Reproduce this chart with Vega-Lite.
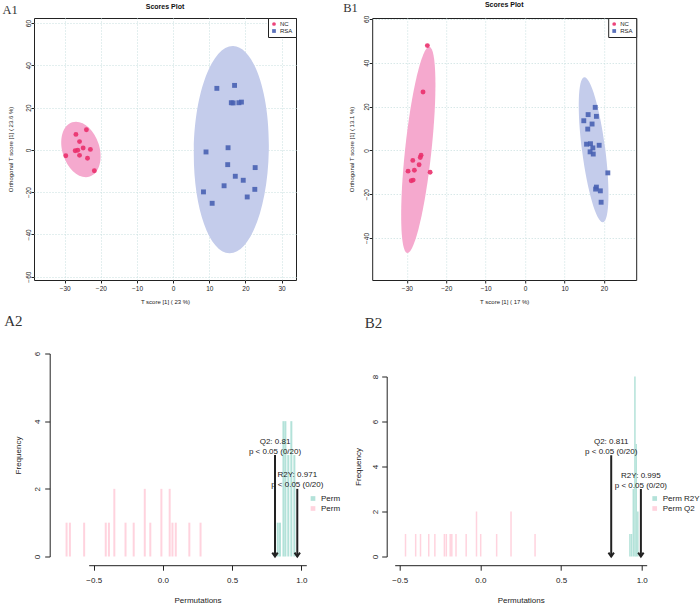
{
  "$schema": "https://vega.github.io/schema/vega-lite/v6.json",
  "padding": {"left": 2, "top": 0, "right": 0, "bottom": 0},
  "spacing": 8.5,
  "resolve": {"scale": {"color": "independent", "shape": "independent"}, "legend": {"color": "independent", "shape": "independent"}},
  "datasets": {
    "a1_points": [
      {"group": "NC", "x": -26.9, "y": 7.3},
      {"group": "NC", "x": -24.0, "y": 9.5},
      {"group": "NC", "x": -25.9, "y": 3.9},
      {"group": "NC", "x": -29.7, "y": -2.8},
      {"group": "NC", "x": -27.1, "y": -0.4},
      {"group": "NC", "x": -26.4, "y": -0.2},
      {"group": "NC", "x": -24.9, "y": 0.9},
      {"group": "NC", "x": -22.9, "y": 0.2},
      {"group": "NC", "x": -25.9, "y": -2.6},
      {"group": "NC", "x": -23.7, "y": -4.0},
      {"group": "NC", "x": -21.8, "y": -9.9},
      {"group": "RSA", "x": 12.1, "y": 29.1},
      {"group": "RSA", "x": 17.0, "y": 30.5},
      {"group": "RSA", "x": 16.1, "y": 22.3},
      {"group": "RSA", "x": 16.6, "y": 22.2},
      {"group": "RSA", "x": 18.2, "y": 22.3},
      {"group": "RSA", "x": 18.9, "y": 22.6},
      {"group": "RSA", "x": 9.1, "y": -1.0},
      {"group": "RSA", "x": 15.2, "y": 1.0},
      {"group": "RSA", "x": 15.1, "y": -7.0},
      {"group": "RSA", "x": 22.7, "y": -8.4},
      {"group": "RSA", "x": 17.2, "y": -12.5},
      {"group": "RSA", "x": 19.4, "y": -14.4},
      {"group": "RSA", "x": 14.1, "y": -17.0},
      {"group": "RSA", "x": 22.6, "y": -18.7},
      {"group": "RSA", "x": 8.4, "y": -19.9},
      {"group": "RSA", "x": 20.5, "y": -22.3},
      {"group": "RSA", "x": 10.8, "y": -25.3}
    ],
    "b1_points": [
      {"group": "NC", "x": -24.8, "y": 47.8},
      {"group": "NC", "x": -25.9, "y": 26.6},
      {"group": "NC", "x": -26.4, "y": -2.2},
      {"group": "NC", "x": -26.6, "y": -3.3},
      {"group": "NC", "x": -28.5, "y": -4.6},
      {"group": "NC", "x": -26.9, "y": -6.6},
      {"group": "NC", "x": -28.1, "y": -9.1},
      {"group": "NC", "x": -29.7, "y": -9.5},
      {"group": "NC", "x": -24.1, "y": -10.0},
      {"group": "NC", "x": -28.4, "y": -13.6},
      {"group": "NC", "x": -28.9, "y": -13.9},
      {"group": "RSA", "x": 17.8, "y": 19.6},
      {"group": "RSA", "x": 16.0, "y": 16.3},
      {"group": "RSA", "x": 18.1, "y": 15.5},
      {"group": "RSA", "x": 14.9, "y": 13.5},
      {"group": "RSA", "x": 17.0, "y": 12.0},
      {"group": "RSA", "x": 15.9, "y": 9.7},
      {"group": "RSA", "x": 15.6, "y": 2.8},
      {"group": "RSA", "x": 16.6, "y": 3.0},
      {"group": "RSA", "x": 17.2, "y": 1.1},
      {"group": "RSA", "x": 18.8, "y": 2.3},
      {"group": "RSA", "x": 16.5, "y": -0.7},
      {"group": "RSA", "x": 17.3, "y": -1.7},
      {"group": "RSA", "x": 21.0, "y": -10.3},
      {"group": "RSA", "x": 18.1, "y": -16.8},
      {"group": "RSA", "x": 17.9, "y": -17.7},
      {"group": "RSA", "x": 19.1, "y": -18.5},
      {"group": "RSA", "x": 19.3, "y": -23.7}
    ],
    "a1_ell": [
      {"group": "NC", "x": -25.5, "y": 0.2},
      {"group": "RSA", "x": 16.1, "y": 0.1}
    ],
    "b1_ell": [
      {"group": "NC", "x": -27.1, "y": 0.2},
      {"group": "RSA", "x": 17.4, "y": 0.3}
    ],
    "a2_bars": [
      {"series": "Perm Q2", "x": -0.696, "count": 1},
      {"series": "Perm Q2", "x": -0.672, "count": 1},
      {"series": "Perm Q2", "x": -0.569, "count": 1},
      {"series": "Perm Q2", "x": -0.413, "count": 1},
      {"series": "Perm Q2", "x": -0.390, "count": 1},
      {"series": "Perm Q2", "x": -0.351, "count": 2},
      {"series": "Perm Q2", "x": -0.270, "count": 1},
      {"series": "Perm Q2", "x": -0.211, "count": 1},
      {"series": "Perm Q2", "x": -0.131, "count": 2},
      {"series": "Perm Q2", "x": -0.091, "count": 1},
      {"series": "Perm Q2", "x": -0.011, "count": 2},
      {"series": "Perm Q2", "x": 0.049, "count": 2},
      {"series": "Perm Q2", "x": 0.069, "count": 1},
      {"series": "Perm Q2", "x": 0.093, "count": 1},
      {"series": "Perm Q2", "x": 0.191, "count": 1},
      {"series": "Perm Q2", "x": 0.272, "count": 1},
      {"series": "Perm R2Y", "x": 0.830, "count": 1},
      {"series": "Perm R2Y", "x": 0.846, "count": 1},
      {"series": "Perm R2Y", "x": 0.871, "count": 4},
      {"series": "Perm R2Y", "x": 0.885, "count": 4},
      {"series": "Perm R2Y", "x": 0.906, "count": 3},
      {"series": "Perm R2Y", "x": 0.928, "count": 4},
      {"series": "Perm R2Y", "x": 0.950, "count": 3}
    ],
    "b2_bars": [
      {"series": "Perm Q2", "x": -0.464, "count": 1},
      {"series": "Perm Q2", "x": -0.401, "count": 1},
      {"series": "Perm Q2", "x": -0.371, "count": 1},
      {"series": "Perm Q2", "x": -0.320, "count": 1},
      {"series": "Perm Q2", "x": -0.282, "count": 1},
      {"series": "Perm Q2", "x": -0.223, "count": 1},
      {"series": "Perm Q2", "x": -0.211, "count": 1},
      {"series": "Perm Q2", "x": -0.187, "count": 1},
      {"series": "Perm Q2", "x": -0.177, "count": 1},
      {"series": "Perm Q2", "x": -0.151, "count": 1},
      {"series": "Perm Q2", "x": -0.088, "count": 1},
      {"series": "Perm Q2", "x": -0.024, "count": 2},
      {"series": "Perm Q2", "x": 0.002, "count": 1},
      {"series": "Perm Q2", "x": 0.101, "count": 1},
      {"series": "Perm Q2", "x": 0.190, "count": 2},
      {"series": "Perm Q2", "x": 0.339, "count": 1},
      {"series": "Perm R2Y", "x": 0.927, "count": 1},
      {"series": "Perm R2Y", "x": 0.937, "count": 1},
      {"series": "Perm R2Y", "x": 0.948, "count": 3},
      {"series": "Perm R2Y", "x": 0.958, "count": 8},
      {"series": "Perm R2Y", "x": 0.966, "count": 5},
      {"series": "Perm R2Y", "x": 0.976, "count": 2}
    ],
    "a2_arrows": [
      {"x": 0.81, "ytop": 3.0, "label": "Q2: 0.81\np < 0.05 (0/20)"},
      {"x": 0.971, "ytop": 2.0, "label": "R2Y: 0.971\np < 0.05 (0/20)"}
    ],
    "b2_arrows": [
      {"x": 0.811, "ytop": 4.5, "label": "Q2: 0.811\np < 0.05 (0/20)"},
      {"x": 0.995, "ytop": 3.0, "label": "R2Y: 0.995\np < 0.05 (0/20)"}
    ]
  },
  "vconcat": [
    {
      "spacing": 46.2,
      "resolve": {"scale": {"color": "independent", "shape": "independent"}, "legend": {"color": "independent", "shape": "independent"}},
      "hconcat": [
        {
          "title": {"text": "A1", "anchor": "start", "frame": "bounds", "font": "Liberation Serif", "fontSize": 12.5, "fontWeight": "normal", "color": "#333", "dx": -4, "dy": 14, "offset": 0},
          "resolve": {"scale": {"color": "independent", "shape": "independent"}, "legend": {"color": "independent", "shape": "independent"}},
          "vconcat": [
            {
              "width": 262,
              "height": 262,
              "view": {"stroke": "#222", "strokeWidth": 1},
              "title": {"text": "Scores Plot", "font": "Liberation Sans", "fontSize": 7, "fontWeight": "bold", "color": "#111", "offset": 7.5},
              "encoding": {
                "x": {"field": "x", "type": "quantitative", "scale": {"domain": [-38.5, 34], "nice": false, "zero": false},
                  "axis": {"values": [-30, -20, -10, 0, 10, 20, 30], "grid": true, "gridDash": [1, 2], "gridColor": "#c6dede", "domain": false, "tickSize": 3, "labelFontSize": 6.5, "labelPadding": 2.5, "title": "T score [1] ( 23 %)", "titleFontSize": 6, "titlePadding": 6}},
                "y": {"field": "y", "type": "quantitative", "scale": {"domain": [-61.6, 62.4], "nice": false, "zero": false},
                  "axis": {"values": [-60, -40, -20, 0, 20, 40, 60], "grid": true, "gridDash": [1, 2], "gridColor": "#c6dede", "domain": false, "tickSize": 3, "labelFontSize": 6.5, "labelAngle": -90, "labelPadding": 0, "title": "Orthogonal T score [1] ( 23.6 %)", "titleFontSize": 6, "titlePadding": 12}}
              },
              "layer": [
                {
                  "data": {"name": "a1_ell"},
                  "transform": [{"filter": "datum.group === 'NC'"}],
                  "mark": {"type": "point", "shape": "M 0 -1 C 0.3585 -1 0.649 -0.5523 0.649 0 C 0.649 0.5523 0.3585 1 0 1 C -0.3585 1 -0.649 0.5523 -0.649 0 C -0.649 -0.5523 -0.3585 -1 0 -1 Z", "size": 3249, "angle": -18, "filled": true, "color": "#F5A9CE", "opacity": 1, "strokeWidth": 0}
                },
                {
                  "data": {"name": "a1_ell"},
                  "transform": [{"filter": "datum.group === 'RSA'"}],
                  "mark": {"type": "point", "shape": "M 0 -1 C 0.1997 -1 0.3616 -0.5523 0.3616 0 C 0.3616 0.5523 0.1997 1 0 1 C -0.1997 1 -0.3616 0.5523 -0.3616 0 C -0.3616 -0.5523 -0.1997 -1 0 -1 Z", "size": 43015, "angle": 1, "filled": true, "color": "#C4CCEB", "opacity": 1, "strokeWidth": 0}
                },
                {
                  "data": {"name": "a1_points"},
                  "mark": {"type": "point", "filled": true, "size": 24, "opacity": 0.9, "strokeWidth": 0},
                  "encoding": {
                    "color": {"field": "group", "type": "nominal", "scale": {"domain": ["NC", "RSA"], "range": ["#EA2F6C", "#4962B3"]}, "legend": {"orient": "top-right", "offset": 0, "title": null, "strokeColor": "#222", "fillColor": "white", "padding": 3, "labelFontSize": 6, "symbolSize": 14, "rowPadding": 1, "labelOffset": 3}},
                    "shape": {"field": "group", "type": "nominal", "scale": {"domain": ["NC", "RSA"], "range": ["circle", "square"]}, "legend": {"orient": "top-right", "offset": 0, "title": null, "strokeColor": "#222", "fillColor": "white", "padding": 3, "labelFontSize": 6, "symbolSize": 14, "rowPadding": 1, "labelOffset": 3}}
                  }
                }
              ]
            }
          ]
        },
        {
          "title": {"text": "B1", "anchor": "start", "frame": "bounds", "font": "Liberation Serif", "fontSize": 12.5, "fontWeight": "normal", "color": "#333", "dx": -5, "dy": 14, "offset": 0},
          "resolve": {"scale": {"color": "independent", "shape": "independent"}, "legend": {"color": "independent", "shape": "independent"}},
          "vconcat": [
            {
              "width": 264,
              "height": 262,
              "view": {"stroke": "#222", "strokeWidth": 1},
              "title": {"text": "Scores Plot", "font": "Liberation Sans", "fontSize": 7, "fontWeight": "bold", "color": "#111", "offset": 7.5},
              "encoding": {
                "x": {"field": "x", "type": "quantitative", "scale": {"domain": [-38.8, 28.2], "nice": false, "zero": false},
                  "axis": {"values": [-30, -20, -10, 0, 10, 20], "grid": true, "gridDash": [1, 2], "gridColor": "#c6dede", "domain": false, "tickSize": 3, "labelFontSize": 6.5, "labelPadding": 2.5, "title": "T score [1] ( 17 %)", "titleFontSize": 6, "titlePadding": 6}},
                "y": {"field": "y", "type": "quantitative", "scale": {"domain": [-59.2, 60.4], "nice": false, "zero": false},
                  "axis": {"values": [-40, -20, 0, 20, 40, 60], "grid": true, "gridDash": [1, 2], "gridColor": "#c6dede", "domain": false, "tickSize": 3, "labelFontSize": 6.5, "labelAngle": -90, "labelPadding": 0, "title": "Orthogonal T score [1] ( 13.1 %)", "titleFontSize": 6, "titlePadding": 8.5}}
              },
              "layer": [
                {
                  "data": {"name": "b1_ell"},
                  "transform": [{"filter": "datum.group === 'NC'"}],
                  "mark": {"type": "point", "shape": "M 0 -1 C 0.0701 -1 0.127 -0.5523 0.127 0 C 0.127 0.5523 0.0701 1 0 1 C -0.0701 1 -0.127 0.5523 -0.127 0 C -0.127 -0.5523 -0.0701 -1 0 -1 Z", "size": 43098, "angle": 6.1, "filled": true, "color": "#F5A9CE", "opacity": 1, "strokeWidth": 0}
                },
                {
                  "data": {"name": "b1_ell"},
                  "transform": [{"filter": "datum.group === 'RSA'"}],
                  "mark": {"type": "point", "shape": "M 0 -1 C 0.0877 -1 0.1587 -0.5523 0.1587 0 C 0.1587 0.5523 0.0877 1 0 1 C -0.0877 1 -0.1587 0.5523 -0.1587 0 C -0.1587 -0.5523 -0.0877 -1 0 -1 Z", "size": 21374, "angle": -7.4, "filled": true, "color": "#C4CCEB", "opacity": 1, "strokeWidth": 0}
                },
                {
                  "data": {"name": "b1_points"},
                  "mark": {"type": "point", "filled": true, "size": 24, "opacity": 0.9, "strokeWidth": 0},
                  "encoding": {
                    "color": {"field": "group", "type": "nominal", "scale": {"domain": ["NC", "RSA"], "range": ["#EA2F6C", "#4962B3"]}, "legend": {"orient": "top-right", "offset": 0, "title": null, "strokeColor": "#222", "fillColor": "white", "padding": 3, "labelFontSize": 6, "symbolSize": 14, "rowPadding": 1, "labelOffset": 3}},
                    "shape": {"field": "group", "type": "nominal", "scale": {"domain": ["NC", "RSA"], "range": ["circle", "square"]}, "legend": {"orient": "top-right", "offset": 0, "title": null, "strokeColor": "#222", "fillColor": "white", "padding": 3, "labelFontSize": 6, "symbolSize": 14, "rowPadding": 1, "labelOffset": 3}}
                  }
                }
              ]
            }
          ]
        }
      ]
    },
    {
      "spacing": 13.7,
      "resolve": {"scale": {"color": "independent", "shape": "independent"}, "legend": {"color": "independent", "shape": "independent"}},
      "hconcat": [
        {
          "width": 272.3,
          "height": 203,
          "title": {"text": "A2", "anchor": "start", "frame": "bounds", "font": "Liberation Serif", "fontSize": 15, "fontWeight": "normal", "color": "#333", "dx": -10, "offset": 22.5},
          "layer": [
            {
              "data": {"name": "a2_bars"},
              "mark": {"type": "bar", "orient": "vertical", "size": 2},
              "encoding": {
                "x": {"field": "x", "type": "quantitative", "scale": {"domain": [-0.5, 1.0], "nice": false, "zero": false, "range": [54.7, 272.3]},
                  "axis": {"values": [-0.5, 0, 0.5, 1], "format": ".1f", "offset": 8.7, "tickSize": 5, "labelFontSize": 8, "labelPadding": 6.5, "title": "Permutations", "titleFontSize": 8, "titlePadding": 11.5, "grid": false}},
                "y": {"field": "count", "type": "quantitative", "stack": null, "scale": {"domain": [0, 6], "nice": false},
                  "axis": {"values": [0, 1, 2, 3, 4, 5, 6], "offset": -15.7, "tickSize": 5, "labelAngle": -90, "labelFontSize": 8, "labelPadding": 3.5, "title": "Frequency", "titleFontSize": 8, "titlePadding": 11, "grid": false}},
                "color": {"field": "series", "type": "nominal", "scale": {"domain": ["Perm R2Y", "Perm Q2"], "range": ["#B3E2D9", "#FFD3DE"]},
                  "legend": {"orient": "none", "legendX": 275, "legendY": 141, "title": null, "symbolType": "square", "symbolSize": 22, "labelFontSize": 8, "rowPadding": 2, "padding": 0, "labelOffset": 4, "labelExpr": "'Perm'"}}
              }
            },
            {
              "data": {"name": "a2_arrows"},
              "mark": {"type": "rule", "strokeWidth": 2, "color": "#222"},
              "encoding": {
                "x": {"field": "x", "type": "quantitative"},
                "y": {"field": "ytop", "type": "quantitative"},
                "y2": {"datum": 0}
              }
            },
            {
              "data": {"name": "a2_arrows"},
              "mark": {"type": "point", "shape": "M -1 -1.4 L 0 0 L 1 -1.4", "size": 30, "filled": false, "stroke": "#222", "strokeWidth": 2, "opacity": 1},
              "encoding": {
                "x": {"field": "x", "type": "quantitative"},
                "y": {"datum": 0}
              }
            },
            {
              "data": {"name": "a2_arrows"},
              "mark": {"type": "text", "lineBreak": "\n", "fontSize": 8, "lineHeight": 10, "baseline": "bottom", "dy": -9.5, "color": "#222"},
              "encoding": {
                "x": {"field": "x", "type": "quantitative"},
                "y": {"field": "ytop", "type": "quantitative"},
                "text": {"field": "label"}
              }
            }
          ]
        },
        {
          "width": 252,
          "height": 203,
          "title": {"text": "B2", "anchor": "start", "frame": "bounds", "font": "Liberation Serif", "fontSize": 15, "fontWeight": "normal", "color": "#333", "dx": 10, "offset": 22.5},
          "layer": [
            {
              "data": {"name": "b2_bars"},
              "mark": {"type": "bar", "orient": "vertical", "size": 1.5},
              "encoding": {
                "x": {"field": "x", "type": "quantitative", "scale": {"domain": [-0.5, 1.0], "nice": false, "zero": false},
                  "axis": {"values": [-0.5, 0, 0.5, 1], "format": ".1f", "offset": 8.7, "tickSize": 5, "labelFontSize": 8, "labelPadding": 6.5, "title": "Permutations", "titleFontSize": 8, "titlePadding": 11.5, "grid": false}},
                "y": {"field": "count", "type": "quantitative", "stack": null, "scale": {"domain": [0, 8], "nice": false, "range": [203, 23]},
                  "axis": {"values": [0, 2, 4, 6, 8], "offset": 8, "tickSize": 5, "labelAngle": -90, "labelFontSize": 8, "labelPadding": 2, "title": "Frequency", "titleFontSize": 8, "titlePadding": 9, "grid": false}},
                "color": {"field": "series", "type": "nominal", "scale": {"domain": ["Perm R2Y", "Perm Q2"], "range": ["#B3E2D9", "#FFD3DE"]},
                  "legend": {"orient": "none", "legendX": 256, "legendY": 141, "title": null, "symbolType": "square", "symbolSize": 22, "labelFontSize": 8, "rowPadding": 2, "padding": 0, "labelOffset": 4}}
              }
            },
            {
              "data": {"name": "b2_arrows"},
              "mark": {"type": "rule", "strokeWidth": 2, "color": "#222"},
              "encoding": {
                "x": {"field": "x", "type": "quantitative"},
                "y": {"field": "ytop", "type": "quantitative"},
                "y2": {"datum": 0}
              }
            },
            {
              "data": {"name": "b2_arrows"},
              "mark": {"type": "point", "shape": "M -1 -1.4 L 0 0 L 1 -1.4", "size": 30, "filled": false, "stroke": "#222", "strokeWidth": 2, "opacity": 1},
              "encoding": {
                "x": {"field": "x", "type": "quantitative"},
                "y": {"datum": 0}
              }
            },
            {
              "data": {"name": "b2_arrows"},
              "mark": {"type": "text", "lineBreak": "\n", "fontSize": 8, "lineHeight": 10, "baseline": "bottom", "dy": -9.5, "color": "#222"},
              "encoding": {
                "x": {"field": "x", "type": "quantitative"},
                "y": {"field": "ytop", "type": "quantitative"},
                "text": {"field": "label"}
              }
            }
          ]
        }
      ]
    }
  ],
  "config": {
    "font": "Liberation Sans",
    "view": {"stroke": null},
    "axis": {"labelFlush": false, "labelOverlap": false, "domainColor": "#222", "tickColor": "#222", "labelColor": "#222", "titleColor": "#222", "titleFontWeight": "normal"},
    "legend": {"labelColor": "#222"}
  }
}
